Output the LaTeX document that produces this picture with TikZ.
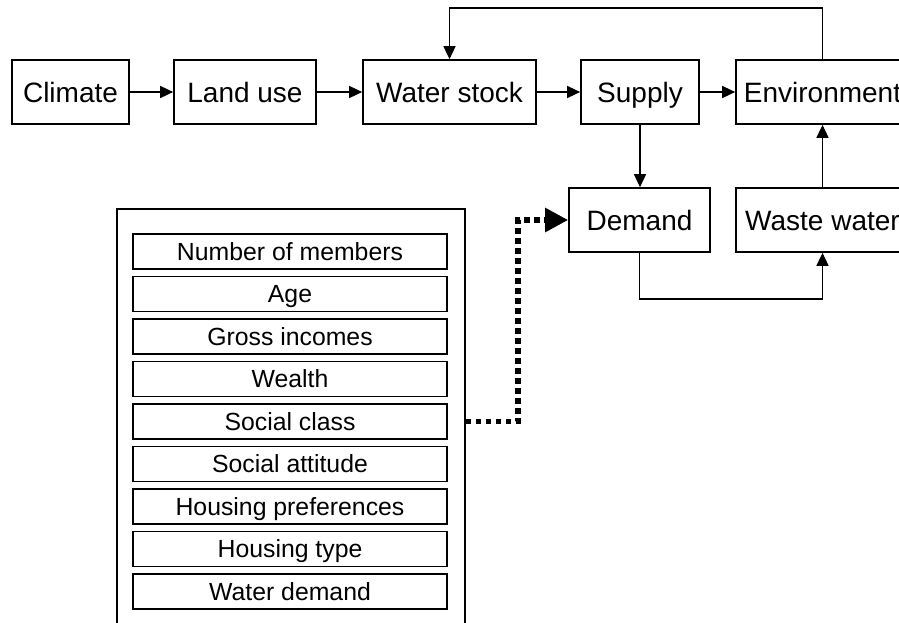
\documentclass[tikz,border=0pt]{standalone}
\usepackage{fontspec}
\setmainfont{Liberation Sans}
\usetikzlibrary{arrows.meta}
\usetikzlibrary{calc,positioning}

\tikzset{
	stage/.style={draw, line width=1.7pt, inner sep=0pt, minimum height=64pt,
		text height=26pt, text depth=6pt, font=\fontsize{28}{32}\selectfont},
	item/.style={draw, line width=1.7pt, inner sep=0pt, minimum width=314pt,
		minimum height=35pt, text height=23pt, text depth=5.2pt,
		font=\fontsize{24.8}{28}\selectfont},
	flow/.style={-{Triangle[length=13pt,width=12pt]}, line width=1.6pt},
	link/.style={-{Triangle[length=23pt,width=23pt]}, line width=5.5pt,
		dash pattern=on 5.5pt off 4.5pt}
}

\begin{document}
\begin{tikzpicture}[x=1pt, y=-1pt]

	% Area
	\useasboundingbox (0,0) rectangle (899,622);
	\clip (0,0) rectangle (899,622);

	% Cadeia principal
	\node[stage, minimum width=117pt] (climate) at (70.5,92) {Climate};
	\node[stage, minimum width=142pt] (land) at (245,92) {Land use};
	\node[stage, minimum width=173pt] (stock) at (449.5,92) {Water stock};
	\node[stage, minimum width=118pt] (supply) at (640,92) {Supply};
	\node[stage, minimum width=173pt] (env) at (822.5,92) {Environment};

	% Segunda linha
	\node[stage, minimum width=141pt] (demand) at (639.5,220) {Demand};
	\node[stage, minimum width=173pt] (waste) at (822.5,220) {Waste water};

	% Setas
	\draw[flow] (climate) -- (land);
	\draw[flow] (land) -- (stock);
	\draw[flow] (stock) -- (supply);
	\draw[flow] (supply) -- (env);
	\draw[flow] (env.north) -- ++(0,-51) -| (stock.north);
	\draw[flow] (supply.south) -- (supply.south |- demand.north);
	\draw[flow] (demand.south) -- ++(0,46) -| (waste.south);
	\draw[flow] (waste) -- (env);

	% Agregado familiar
	\node[draw, line width=1.7pt, minimum width=348pt, minimum height=441pt,
		inner sep=0pt] (panel) at (291,429.5) {};
	\foreach \name/\txt [count=\i from 0] in {members/Number of members, age/Age,
		incomes/Gross incomes, wealth/Wealth, social/Social class,
		attitude/Social attitude, prefs/Housing preferences,
		htype/Housing type, wdemand/Water demand}
		\node[item] (\name) at (290,251.5+42.5*\i) {\txt};

	% Ligacao pontilhada
	\draw[link] (social.east -| panel.east) -- ++(52,0) |- (demand.west);

\end{tikzpicture}
\end{document}
